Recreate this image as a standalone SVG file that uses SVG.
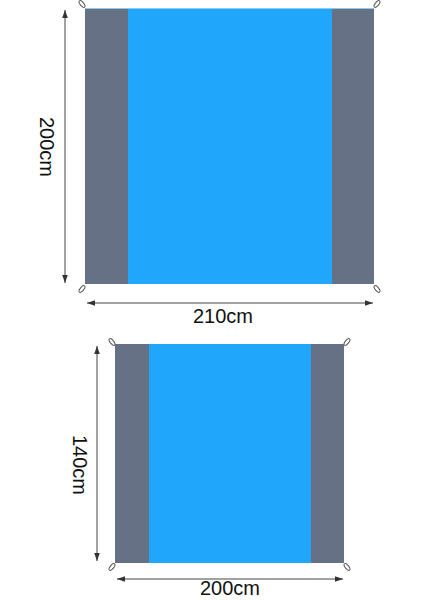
<svg xmlns="http://www.w3.org/2000/svg" width="424" height="600" viewBox="0 0 424 600">
<style>
.grey{fill:#667186}
.blue{fill:#20a7fc}
.dim{stroke:#444;stroke-width:1}
.loop{fill:none;stroke:#555;stroke-width:1}
.lbl{font-family:"Liberation Sans",Arial,sans-serif;font-size:20px;fill:#111;text-anchor:middle}
</style>
<defs>
<marker id="ah" viewBox="0 0 10 10" refX="10" refY="5" markerWidth="8" markerHeight="8" markerUnits="userSpaceOnUse" orient="auto-start-reverse">
<path d="M0,1.5 L10,5 L0,8.5 z" fill="#333"/>
</marker>
</defs>
<rect width="424" height="600" fill="#fff"/>
<g id="mat-large">
<rect class="grey" x="85" y="8" width="289" height="276"/>
<rect class="blue" x="128" y="8" width="204" height="276"/>
<line x1="85" y1="8.5" x2="374" y2="8.5" stroke="#8fc9ee" stroke-width="1"/>
<ellipse class="loop" cx="82" cy="4" rx="1.8" ry="4" transform="rotate(-40 82 4)"/>
<ellipse class="loop" cx="377" cy="4" rx="1.8" ry="4" transform="rotate(40 377 4)"/>
<ellipse class="loop" cx="82" cy="289" rx="1.8" ry="4" transform="rotate(40 82 289)"/>
<ellipse class="loop" cx="377" cy="289" rx="1.8" ry="4" transform="rotate(-40 377 289)"/>
</g>
<g id="mat-small">
<rect class="grey" x="115" y="344" width="229" height="219"/>
<rect class="blue" x="149" y="344" width="162" height="219"/>
<ellipse class="loop" cx="112" cy="342" rx="1.8" ry="4" transform="rotate(-40 112 342)"/>
<ellipse class="loop" cx="347" cy="342" rx="1.8" ry="4" transform="rotate(40 347 342)"/>
<ellipse class="loop" cx="112" cy="567" rx="1.8" ry="4" transform="rotate(40 112 567)"/>
<ellipse class="loop" cx="347" cy="567" rx="1.8" ry="4" transform="rotate(-40 347 567)"/>
</g>
<g id="connectors">
<line class="dim" x1="65" y1="10" x2="65" y2="283" marker-start="url(#ah)" marker-end="url(#ah)"/>
<line class="dim" x1="87" y1="303" x2="373" y2="303" marker-start="url(#ah)" marker-end="url(#ah)"/>
<line class="dim" x1="97" y1="346" x2="97" y2="561" marker-start="url(#ah)" marker-end="url(#ah)"/>
<line class="dim" x1="117" y1="579" x2="343" y2="579" marker-start="url(#ah)" marker-end="url(#ah)"/>
</g>
<g id="labels">
<text class="lbl" x="40" y="147" transform="rotate(90 40 147)">200cm</text>
<text class="lbl" x="223" y="323">210cm</text>
<text class="lbl" x="73" y="465" transform="rotate(90 73 465)">140cm</text>
<text class="lbl" x="230" y="595">200cm</text>
</g>
</svg>
